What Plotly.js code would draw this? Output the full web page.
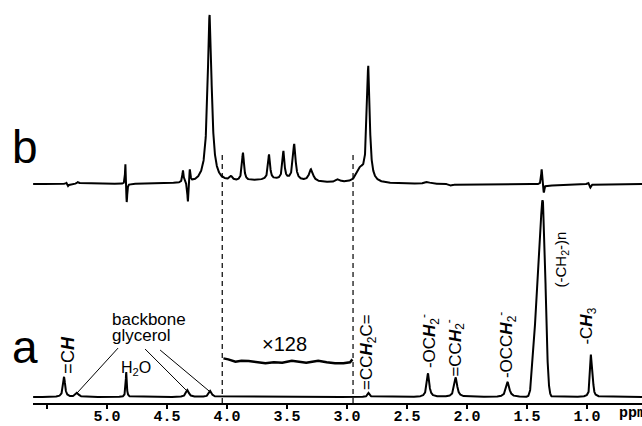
<!DOCTYPE html>
<html>
<head>
<meta charset="utf-8">
<script src="https://cdn.plot.ly/plotly-3.0.1.min.js"></script>
<style>
  html, body { margin: 0; padding: 0; background: #fff; }
  #chart { width: 642px; height: 426px; }
</style>
</head>
<body>
<div id="chart"></div>
<script>
// spectrum a: 1H peaks (ppm, height in % of the -(CH2)n- peak, half width in ppm)
const A_PPM    = [5.358, 5.25, 4.84, 4.33, 4.14, 2.82, 2.325, 2.094, 1.661, 1.442, 1.408, 1.3667, 0.968, 0.955];
const A_HEIGHT = [10.3,  2.1,  12.8, 3.6,  3.1,  2.1,  12.1,  10.0,  7.7,   16,    46,    92.6,   19.5,  10];
const A_WIDTH  = [0.010, 0.015, 0.005, 0.014, 0.014, 0.010, 0.012, 0.014, 0.016, 0.021, 0.025, 0.025, 0.007, 0.007];
const A_SHAPE  = ['L', 'L', 'L', 'L', 'L', 'L', 'L', 'L', 'L', 'G', 'G', 'G', 'L', 'L'];

// spectrum b (filtered), same units, drawn above a
const B_OFFSET = 109.2;
const B_PPM    = [5.335, 5.325, 5.24, 4.847, 4.836, 4.367, 4.326, 4.31, 4.145, 3.967, 3.867, 3.6, 3.65, 3.53, 3.44, 3.30, 3.075, 2.89, 2.823, 2.33, 2.13, 1.378, 1.36, 1.30, 0.985, 0.972];
const B_HEIGHT = [1.0, -1.5, 1.0, 11.8, -10.8, 6.2, -11.3, 7.2, 86.2, 2.1, 14.4, 2.1, 12.8, 14.4, 18.5, 6.2, 1.5, 6.2, 59, 1.0, -1.0, 8.2, -4.6, -0.8, 1.0, -2.1];
const B_WIDTH  = [0.008, 0.008, 0.010, 0.004, 0.005, 0.006, 0.006, 0.006, 0.020, 0.015, 0.010, 0.3, 0.010, 0.010, 0.013, 0.020, 0.020, 0.035, 0.014, 0.020, 0.020, 0.005, 0.006, 0.05, 0.008, 0.008];

// x128 expansion of a between the dashed lines
const INSET_PPM = [4.03, 3.99, 3.93, 3.88, 3.82, 3.75, 3.68, 3.61, 3.54, 3.46, 3.41, 3.34, 3.29, 3.24, 3.17, 3.10, 3.03, 2.975, 2.955];
const INSET_VAL = [19.8, 19.3, 18.1, 18.6, 18.5, 17.8, 17.3, 17.8, 17.6, 18.6, 18.1, 17.6, 18.1, 18.6, 17.8, 17.3, 17.3, 17.8, 19.3];

const TICK_VALS = [5.5, 5.0, 4.5, 4.0, 3.5, 3.0, 2.5, 2.0, 1.5, 1.0];
const TICK_TEXT = [' ', '5.0', '4.5', '4.0', '3.5', '3.0', '2.5', '2.0', '1.5', '1.0'];
const CUT_PPM = [4.04, 2.95];

const X_RANGE = [5.617, 0.542];
const Y_RANGE = [-3.077, 203.6];

function line(ppm, p0, h, w, shape) {
  const d = (ppm - p0) / w;
  return shape === 'G' ? h * Math.exp(-Math.LN2 * d * d) : h / (1 + d * d);
}

function spectrum(pos, hts, wds, shapes, offset) {
  const xs = [], ys = [];
  for (let p = X_RANGE[1]; p <= X_RANGE[0]; p += 0.001) {
    let v = offset;
    for (let i = 0; i < pos.length; i++) v += line(p, pos[i], hts[i], wds[i], shapes ? shapes[i] : 'L');
    xs.push(p); ys.push(v);
  }
  return { x: xs, y: ys };
}

const sa = spectrum(A_PPM, A_HEIGHT, A_WIDTH, A_SHAPE, 0);
const sb = spectrum(B_PPM, B_HEIGHT, B_WIDTH, null, B_OFFSET);

const LINE = { color: '#000', width: 2 };
const traces = [
  { x: sa.x, y: sa.y, mode: 'lines', line: LINE, hoverinfo: 'skip' },
  { x: sb.x, y: sb.y, mode: 'lines', line: LINE, hoverinfo: 'skip' },
  { x: INSET_PPM, y: INSET_VAL, mode: 'lines', line: { color: '#000', width: 2.5 }, hoverinfo: 'skip' },
];

const SANS = 'Liberation Sans, Arial, sans-serif';
const MONO = 'Liberation Mono, Courier New, monospace';
const H = '<b><i>H</i></b>';
function vlab(text, x, y, size) {
  return { text, x, y, xref: 'x', yref: 'y', showarrow: false, textangle: -90,
    xanchor: 'center', yanchor: 'bottom', font: { family: SANS, size: size || 17, color: '#000' } };
}
function hlab(text, x, y, size, xanchor) {
  return { text, x, y, xref: 'x', yref: 'y', showarrow: false,
    xanchor: xanchor || 'center', yanchor: 'middle', font: { family: SANS, size, color: '#000' } };
}

const annotations = [
  { text: 'a', xref: 'paper', yref: 'paper', x: -0.038, y: 0.14, xanchor: 'left', yanchor: 'middle',
    showarrow: false, font: { family: SANS, size: 46, color: '#000' } },
  { text: 'b', xref: 'paper', yref: 'paper', x: -0.038, y: 0.635, xanchor: 'left', yanchor: 'middle',
    showarrow: false, font: { family: SANS, size: 46, color: '#000' } },
  vlab('=C' + H, 5.333, 11.0, 18),
  hlab('backbone', 4.975, 39.5, 17, 'left'),
  hlab('glycerol', 4.975, 31.5, 17, 'left'),
  hlab('H<sub>2</sub>O', 4.758, 14.4, 16),
  hlab('\u00d7128', 3.525, 27.2, 20),
  vlab('=CC' + H + '<sub>2</sub>C=', 2.825, 2.6),
  vlab('-OC' + H + '<sub>2</sub><sup>-</sup>', 2.317, 13.8),
  vlab('=CC' + H + '<sub>2</sub><sup>-</sup>', 2.10, 9.2),
  vlab('-OCC' + H + '<sub>2</sub><sup>-</sup>', 1.675, 8.7),
  vlab('(-CH<sub>2</sub>-)n', 1.2125, 54.9, 15),
  vlab('-C' + H + '<sub>3</sub>', 0.992, 25.6),
  { text: 'ppm', xref: 'x', yref: 'paper', x: 0.625, y: 0, xanchor: 'center', yanchor: 'top', yshift: 0,
    showarrow: false, font: { family: MONO, size: 15, weight: 'bold', color: '#000' } },
];

const shapes = CUT_PPM.map((p) => ({
  type: 'line', xref: 'x', yref: 'y', x0: p, x1: p, y0: Y_RANGE[0], y1: 125,
  line: { color: '#000', width: 1.2, dash: '5px,4px' },
}));
// leader lines from the "backbone glycerol" label
[[4.908, 25.1, 5.25, 2.05], [4.683, 24.6, 4.342, 3.6], [4.558, 24.1, 4.15, 3.1]].forEach((s) => {
  shapes.push({ type: 'line', xref: 'x', yref: 'y', x0: s[0], y0: s[1], x1: s[2], y1: s[3],
    line: { color: '#000', width: 1 } });
});

Plotly.newPlot('chart', traces, {
  width: 642, height: 426,
  margin: { l: 33, r: 0, t: 0, b: 23 },
  paper_bgcolor: '#fff', plot_bgcolor: '#fff',
  showlegend: false,
  xaxis: {
    range: X_RANGE, showgrid: false, zeroline: false,
    showline: true, linecolor: '#000', linewidth: 2,
    ticks: 'outside', ticklen: 4, tickwidth: 1.5, tickcolor: '#000',
    tickvals: TICK_VALS, ticktext: TICK_TEXT, ticklabelstandoff: -6,
    tickfont: { family: MONO, size: 15, weight: 'bold', color: '#000' },
  },
  yaxis: { range: Y_RANGE, visible: false },
  annotations, shapes,
}, { staticPlot: true });
</script>
</body>
</html>
